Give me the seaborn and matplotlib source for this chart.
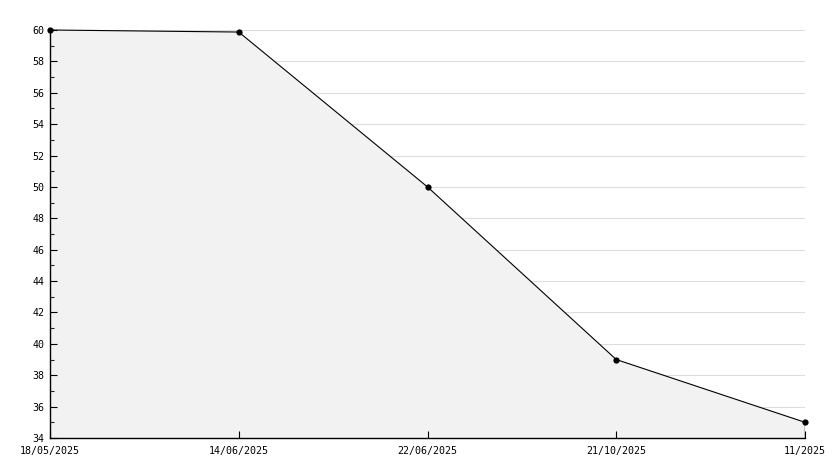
import pandas as pd
import matplotlib
matplotlib.use('Agg')
import matplotlib.pyplot as plt
import seaborn as sns
from matplotlib.ticker import MultipleLocator

# data
dates = ['18/05/2025', '14/06/2025', '22/06/2025', '21/10/2025', '11/2025']
values = [60, 59.87, 50, 39, 35]

df = pd.DataFrame({'pos': range(len(dates)), 'value': values})

sns.set_style('white')
plt.rcParams['font.family'] = ['DejaVu Sans Mono']

fig = plt.figure(figsize=(8.34, 4.68), dpi=100)
ax = fig.add_axes([50 / 834, 30 / 468, 755 / 834, 408 / 468])

ax.set_xlim(0, len(dates) - 1)
ax.set_ylim(34, 60)

# grid drawn behind the filled area
for y in range(36, 61, 2):
    ax.axhline(y, color='#dddddd', lw=0.8, zorder=0)

ax.fill_between(df['pos'], df['value'], 34, color='#f2f2f2', lw=0, zorder=1)
sns.lineplot(data=df, x='pos', y='value', ax=ax, color='black', lw=0.8,
             marker='o', markersize=4.5, markeredgewidth=0, zorder=3, clip_on=False)
ax.vlines(df['pos'].iloc[-1], 34, df['value'].iloc[-1], color='black', lw=1, zorder=3)

ax.yaxis.set_major_locator(MultipleLocator(2))
ax.yaxis.set_minor_locator(MultipleLocator(1))
ax.set_xticks(df['pos'])
ax.set_xticklabels(dates)
ax.grid(False)
ax.set_axisbelow(False)

for s in ['top', 'right']:
    ax.spines[s].set_visible(False)
for s in ['left', 'bottom']:
    ax.spines[s].set_color('black')
    ax.spines[s].set_linewidth(1)

ax.tick_params(axis='y', which='major', direction='in', length=5, width=0.8,
               labelsize=7.2, colors='black', pad=4, left=True)
ax.tick_params(axis='x', which='major', direction='in', length=5, width=0.8,
               labelsize=7.2, colors='black', pad=6, bottom=True)
ax.tick_params(axis='y', which='minor', direction='in', length=3, width=0.8, left=True)
ax.tick_params(axis='x', which='minor', bottom=False)
ax.set_xlabel('')
ax.set_ylabel('')

fig.savefig('out.png', dpi=100, facecolor='white')
